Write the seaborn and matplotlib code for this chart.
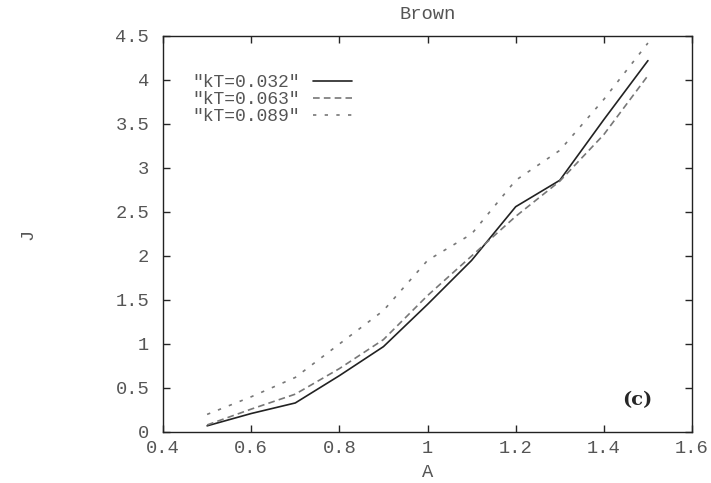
import pandas as pd
import matplotlib
matplotlib.use('Agg')
import matplotlib.pyplot as plt
import seaborn as sns

# Dados
a_vals = [0.5, 0.6, 0.7, 0.8, 0.9, 1.0, 1.1, 1.2, 1.3, 1.4, 1.5]
j_kt032 = [0.07, 0.21, 0.33, 0.64, 0.97, 1.45, 1.95, 2.56, 2.86, 3.55, 4.22]
j_kt063 = [0.08, 0.26, 0.43, 0.72, 1.05, 1.55, 2.00, 2.45, 2.85, 3.38, 4.05]
j_kt089 = [0.20, 0.40, 0.62, 1.00, 1.38, 1.95, 2.25, 2.86, 3.20, 3.78, 4.42]
labels = ['"kT=0.032"', '"kT=0.063"', '"kT=0.089"']

df = pd.concat([
    pd.DataFrame({'A': a_vals, 'J': j_kt032, 'serie': labels[0]}),
    pd.DataFrame({'A': a_vals, 'J': j_kt063, 'serie': labels[1]}),
    pd.DataFrame({'A': a_vals, 'J': j_kt089, 'serie': labels[2]}),
])

sns.set_style('ticks')
plt.rcParams['font.family'] = ['Liberation Mono', 'DejaVu Sans Mono']

fig = plt.figure(figsize=(7.11, 4.83), dpi=100)
ax = fig.add_axes([0.2293, 0.1056, 0.744, 0.8199])

cores = {labels[0]: '#222222', labels[1]: '#777777', labels[2]: '#777777'}
tracos = {labels[0]: '', labels[1]: (4, 2.5), labels[2]: (2, 5)}
sns.lineplot(data=df, x='A', y='J', hue='serie', style='serie', palette=cores,
             dashes=tracos, linewidth=1.2, ax=ax)

ax.set_xlim(0.4, 1.6)
ax.set_ylim(0, 4.5)
ax.set_xticks([0.4, 0.6, 0.8, 1.0, 1.2, 1.4, 1.6])
ax.set_xticklabels(['0.4', '0.6', '0.8', '1', '1.2', '1.4', '1.6'])
ax.set_yticks([0, 0.5, 1, 1.5, 2, 2.5, 3, 3.5, 4, 4.5])
ax.set_yticklabels(['0', '0.5', '1', '1.5', '2', '2.5', '3', '3.5', '4', '4.5'])
ax.tick_params(direction='in', length=5, width=1, top=True, right=True,
               labelsize=13.5, labelcolor='#555555')
ax.tick_params(axis='x', pad=6)
ax.tick_params(axis='y', pad=10)
for s in ax.spines.values():
    s.set_linewidth(1.0)
    s.set_color('#222222')

ax.set_title('Brown', fontsize=13.5, color='#555555', pad=12)
ax.set_xlabel('A', fontsize=13.5, color='#555555', labelpad=5)
ax.set_ylabel('J', fontsize=13.5, color='#555555', labelpad=57)

ax.text(0.925, 0.08, '(c)', transform=ax.transAxes, fontsize=14, fontweight='bold',
        family='DejaVu Serif', ha='right', va='center')

leg = ax.legend(loc='upper left', bbox_to_anchor=(0.025, 0.945), markerfirst=False,
                frameon=False, fontsize=13, handlelength=2.2, labelspacing=0.0,
                handletextpad=0.7)
for t in leg.get_texts():
    t.set_color('#555555')

fig.savefig('out.png', dpi=100)
